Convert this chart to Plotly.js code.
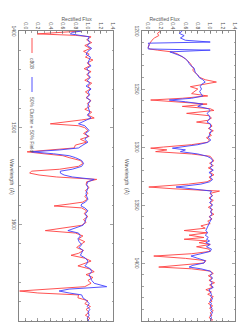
<!DOCTYPE html>
<html><head><meta charset="utf-8">
<script src="https://cdn.plot.ly/plotly-3.0.1.min.js"></script>
<style>
html,body{margin:0;padding:0;overflow:hidden;background:#fff;width:245px;height:322px;}
#rot{position:absolute;left:0;top:0;width:322px;height:245px;transform-origin:0 0;transform:translateX(245px) rotate(90deg);}
</style></head>
<body><div id="rot"></div>
<script>
// Top panel (1200-1450 A)
const waveTop = [1200,1202,1204,1206,1208,1209.5,1210.5,1212,1214,1215.5,1216.5,1218,1220,1222,1224,1226,1228,1230,1232,1234,1236,1238,1240,1242,1244,1246,1248,1250,1252,1254,1256,1258,1259.5,1261,1263,1265,1267,1268.5,1271,1273,1275,1277,1278.5,1280,1282,1284,1286,1288,1290,1292,1294,1296,1298,1300,1301,1302.5,1304,1306,1308,1310,1312,1314,1316,1318,1320,1322,1324,1326,1328,1330,1332,1334.5,1336,1338,1340,1342,1344,1346,1348,1350,1352,1354,1356,1358,1360,1362,1364,1366,1368,1370,1372,1374,1376,1378,1379.5,1381,1382.5,1384,1386,1388,1390,1392,1394,1396,1398,1400,1402,1403.5,1405,1407,1409,1411,1413,1415,1417,1419,1421,1423,1425,1427,1429,1431,1433,1435,1437,1439,1441,1443,1445,1447,1449,1451];
const c808Top = [0.20,0.15,0.17,0.10,0.06,0.04,0.02,0.01,0.00,0.02,0.15,0.38,0.48,0.55,0.60,0.64,0.68,0.70,0.73,0.72,0.77,0.80,0.83,0.92,1.10,0.90,0.68,0.80,0.75,0.70,0.96,0.55,0.04,0.40,0.95,0.55,1.00,1.06,0.62,0.98,1.02,0.96,0.78,1.00,1.03,0.97,1.05,0.98,1.02,0.94,0.99,0.95,0.70,0.25,0.04,0.30,0.12,0.70,1.00,1.03,1.06,0.99,1.05,0.97,1.04,1.00,1.06,0.98,1.02,0.95,0.65,0.01,0.40,1.15,1.00,1.04,0.98,1.05,1.00,1.03,0.97,1.04,1.00,1.06,0.98,1.03,0.96,1.00,0.85,0.92,0.58,0.95,0.66,0.90,0.58,0.95,0.82,1.00,0.78,0.98,1.00,0.70,0.09,0.60,0.93,0.90,0.40,0.17,0.70,1.00,1.05,0.97,1.03,0.98,1.07,0.99,1.04,0.93,1.02,0.96,1.05,1.00,1.03,0.97,1.04,0.99,1.05,1.00,1.03,0.98,1.04,1.00];
const mixTop = [0.55,0.50,0.58,0.52,0.60,1.00,0.00,0.02,0.00,0.00,1.00,0.35,0.45,0.55,0.60,0.64,0.66,0.69,0.74,0.75,0.76,0.80,0.82,0.88,0.92,0.86,0.84,0.86,0.83,0.85,0.88,0.70,0.34,0.60,0.88,0.80,0.97,1.00,0.95,0.98,1.00,0.97,0.95,1.00,1.01,0.99,1.02,1.00,0.99,0.97,1.01,0.96,0.80,0.55,0.39,0.60,0.52,0.80,0.95,1.02,1.04,1.01,1.03,1.00,1.05,0.98,1.03,1.00,1.04,0.99,0.85,0.45,0.70,1.02,1.00,1.03,1.00,1.02,0.99,1.04,1.00,1.02,1.01,1.03,0.99,1.02,1.00,0.98,0.97,0.95,0.93,0.96,0.92,0.97,0.94,0.99,0.93,1.00,0.94,1.02,1.00,0.85,0.69,0.80,0.92,0.90,0.72,0.66,0.85,1.00,1.03,1.00,1.04,1.00,1.03,1.01,1.05,0.98,1.00,1.02,1.01,1.04,0.99,1.02,1.00,1.03,1.01,1.04,1.00,1.02,1.01,1.00];

// Bottom panel (1400-1700 A)
const waveBot = [1400,1401.5,1403,1404.5,1406,1409,1412,1415,1418,1421,1424,1427,1430,1433,1436,1439,1442,1445,1448,1451,1454,1457,1460,1463,1466,1469,1472,1475,1478,1481,1484,1487,1490,1492,1494,1496,1498,1500,1503,1506,1509,1512,1515,1518,1521,1523,1525,1527,1529,1531,1534,1537,1540,1543,1545,1547,1549,1551,1553.5,1556,1559,1562,1565,1568,1571,1574,1577,1579,1581,1583,1586,1589,1592,1595,1598,1601,1604,1606.5,1609,1612,1615,1618,1621,1624,1627,1630,1632,1635,1638,1641,1643,1646,1649,1652,1655,1658,1661,1664.5,1667,1669,1671,1673,1676,1679,1682,1685,1688,1691,1694,1697,1700];
const c808Bot = [0.90,0.45,0.19,0.80,1.05,0.98,1.06,0.95,1.04,0.93,1.02,0.96,1.08,0.99,1.03,0.94,1.05,0.98,1.03,0.95,1.06,1.00,1.04,0.96,1.02,0.97,1.05,0.99,1.03,0.95,1.06,1.00,1.10,0.90,0.60,0.40,0.85,0.95,1.00,0.93,1.02,0.88,0.98,0.80,0.78,0.40,0.03,0.30,0.60,0.70,0.88,0.92,0.85,0.55,0.10,0.07,0.22,0.50,1.14,0.98,0.97,1.02,0.96,1.00,0.95,0.99,0.92,0.70,0.46,0.90,0.98,0.94,1.00,0.93,0.97,0.90,0.60,0.32,0.80,0.92,0.85,0.95,0.88,0.82,0.93,0.85,0.73,0.95,1.05,0.90,0.84,1.02,1.10,0.97,1.08,1.00,1.05,0.95,0.30,-0.09,0.20,0.85,0.84,1.00,0.95,1.04,0.97,1.02,0.96,1.03,0.99];
const mixBot = [0.90,0.75,0.72,0.88,1.02,1.00,1.03,0.99,1.06,1.00,0.97,1.04,1.02,1.00,1.05,0.98,1.02,1.00,1.04,0.99,1.03,0.97,1.05,1.00,1.03,0.98,1.04,1.01,1.00,1.02,1.03,0.99,1.05,0.98,0.90,0.85,0.95,0.98,1.02,0.96,1.00,0.95,1.00,0.92,0.85,0.55,0.10,0.45,0.70,0.80,0.90,0.93,0.90,0.75,0.56,0.56,0.62,0.75,1.10,1.00,0.98,1.00,0.99,0.97,0.98,1.00,0.96,0.90,0.89,0.95,1.00,0.96,0.98,0.97,0.95,0.92,0.78,0.68,0.85,0.88,0.84,0.86,0.90,0.86,0.92,0.90,0.88,0.96,1.00,0.98,0.95,1.04,1.06,1.02,1.04,1.06,1.10,1.30,0.70,0.54,0.70,0.90,0.92,0.98,1.02,0.99,1.03,1.00,1.02,0.99,1.01];

const seriesNames = ['c808', '50% Cluster + 50% Field'];
const fluxTicks = [0.0,0.2,0.4,0.6,0.8,1.0,1.2,1.4];

const RED = '#ff4040', BLUE = '#4040ff';
const font = {family:'Liberation Sans, Arial, sans-serif', size:5, color:'#555'};

const traces = [
  {x:waveTop, y:c808Top, xaxis:'x', yaxis:'y', mode:'lines', line:{color:RED,width:0.9}, showlegend:false, name:seriesNames[0]},
  {x:waveTop, y:mixTop, xaxis:'x', yaxis:'y', mode:'lines', line:{color:BLUE,width:0.9}, showlegend:false, name:seriesNames[1]},
  {x:waveBot, y:c808Bot, xaxis:'x2', yaxis:'y2', mode:'lines', line:{color:RED,width:0.9}, name:seriesNames[0], legend:'legend'},
  {x:waveBot, y:mixBot, xaxis:'x2', yaxis:'y2', mode:'lines', line:{color:BLUE,width:0.9}, name:seriesNames[1], legend:'legend2'}
];

const W = 322, H = 245;
const axBase = {showgrid:false, zeroline:false, showline:true, linecolor:'#666', linewidth:0.8,
  mirror:'allticks', ticks:'inside', ticklen:3, tickwidth:0.6, tickcolor:'#666', tickfont:font};
const yax = (dom) => Object.assign({}, axBase, {domain:dom, range:[-0.1,1.4], tickvals:fluxTicks,
  tickformat:'.1f', minor:{dtick:0.1, tick0:0, ticks:'inside', ticklen:1.5, tickcolor:'#666'}});
const legBase = {orientation:'h', xanchor:'left', yanchor:'middle', font:font, bgcolor:'rgba(0,0,0,0)', itemwidth:30, borderwidth:0};

const layout = {
  width:W, height:H, margin:{l:0,r:0,t:0,b:0},
  paper_bgcolor:'#fff', plot_bgcolor:'#fff', font:font,
  xaxis: Object.assign({}, axBase, {domain:[31/W, 321/W], range:[1200,1450], dtick:50, tick0:1200, anchor:'y',
    minor:{dtick:10, ticks:'inside', ticklen:1.5, tickcolor:'#666'}}),
  yaxis: Object.assign(yax([(H-103)/H, (H-10)/H]), {anchor:'x'}),
  xaxis2: Object.assign({}, axBase, {domain:[31/W, 321/W], range:[1400,1700], dtick:100, tick0:1400, anchor:'y2',
    minor:{dtick:20, ticks:'inside', ticklen:1.5, tickcolor:'#666'}}),
  yaxis2: Object.assign(yax([(H-226)/H, (H-132)/H]), {anchor:'x2'}),
  showlegend:true,
  legend: Object.assign({}, legBase, {x:18/W, y:(H-213)/H}),
  legend2: Object.assign({}, legBase, {x:57/W, y:(H-213)/H}),
  annotations:[
    {text:'Rectified Flux', xref:'paper', yref:'paper', x:13/W, y:(H-63)/H, textangle:-90, showarrow:false, font:font},
    {text:'Rectified Flux', xref:'paper', yref:'paper', x:13/W, y:(H-186)/H, textangle:-90, showarrow:false, font:font},
    {text:'Wavelength  (Å)', xref:'paper', yref:'paper', x:177/W, y:(H-118)/H, showarrow:false, font:font},
    {text:'Wavelength  (Å)', xref:'paper', yref:'paper', x:177/W, y:(H-238)/H, showarrow:false, font:font}
  ]
};
Plotly.newPlot('rot', traces, layout, {staticPlot:true, displayModeBar:false}).then(function(gd){
  gd.querySelectorAll('.legendlines path').forEach(function(p){ p.setAttribute('d','M20,0h15'); });
});
</script></body></html>
